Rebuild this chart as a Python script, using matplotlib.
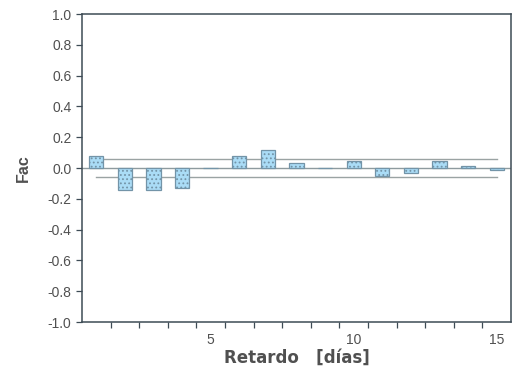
import matplotlib
matplotlib.use("Agg")
import matplotlib.pyplot as plt
import numpy as np

plt.rcParams["font.family"] = ["Liberation Sans", "DejaVu Sans"]
plt.rcParams["hatch.color"] = "#92cbec"
plt.rcParams["hatch.linewidth"] = 0.8

# autocorrelation by lag (days)
lags = list(range(1, 16))
fac = [0.08, -0.14, -0.14, -0.13, 0.0, 0.08, 0.12, 0.03, 0.0,
       0.045, -0.05, -0.035, 0.045, 0.013, -0.012]
conf_limit = 0.06
x_labels = [5, 10, 15]
y_ticks = [-1.0, -0.8, -0.6, -0.4, -0.2, 0.0, 0.2, 0.4, 0.6, 0.8, 1.0]

TEXT = "#505050"
SPINE = "#3d4b55"

fig = plt.figure(figsize=(5.12, 3.74), dpi=100)
ax = fig.add_axes([0.160, 0.139, 0.838, 0.8235])

ax.bar(lags, fac, width=0.5, color="#aadcf6", edgecolor="#7394a8",
       linewidth=0.9, hatch="....", zorder=3)

ax.axhline(0, color="#8e9a9e", linewidth=1.0, zorder=2)
ax.plot([lags[0], lags[-1]], [conf_limit, conf_limit], color="#9aa3a3", linewidth=1.0, zorder=2)
ax.plot([lags[0], lags[-1]], [-conf_limit, -conf_limit], color="#9aa3a3", linewidth=1.0, zorder=2)

ax.set_xlim(0.5, 15.5)
ax.set_ylim(-1.0, 1.0)
ax.set_yticks(y_ticks)
ax.set_yticklabels([f"{v:.1f}" for v in y_ticks])
ax.set_xticks(x_labels)
ax.set_xticklabels([str(v) for v in x_labels])
ax.set_xticks(np.arange(1.5, 15.5, 1.0), minor=True)
ax.tick_params(axis="x", which="major", length=0, pad=8, labelsize=10, labelcolor=TEXT)
ax.tick_params(axis="x", which="minor", length=4, width=0.9, color=SPINE, direction="out")
ax.tick_params(axis="y", length=4, width=0.9, color=SPINE, direction="out",
               labelsize=10, labelcolor=TEXT)

for s in ax.spines.values():
    s.set_color(SPINE)
    s.set_linewidth(1.1)

ax.set_xlabel("Retardo   [días]", fontsize=12, fontweight="bold", color=TEXT,
              family="DejaVu Sans", labelpad=1)
ax.set_ylabel("Fac", fontsize=11.5, fontweight="bold", color=TEXT, labelpad=12)

fig.savefig("out.png", dpi=100)
